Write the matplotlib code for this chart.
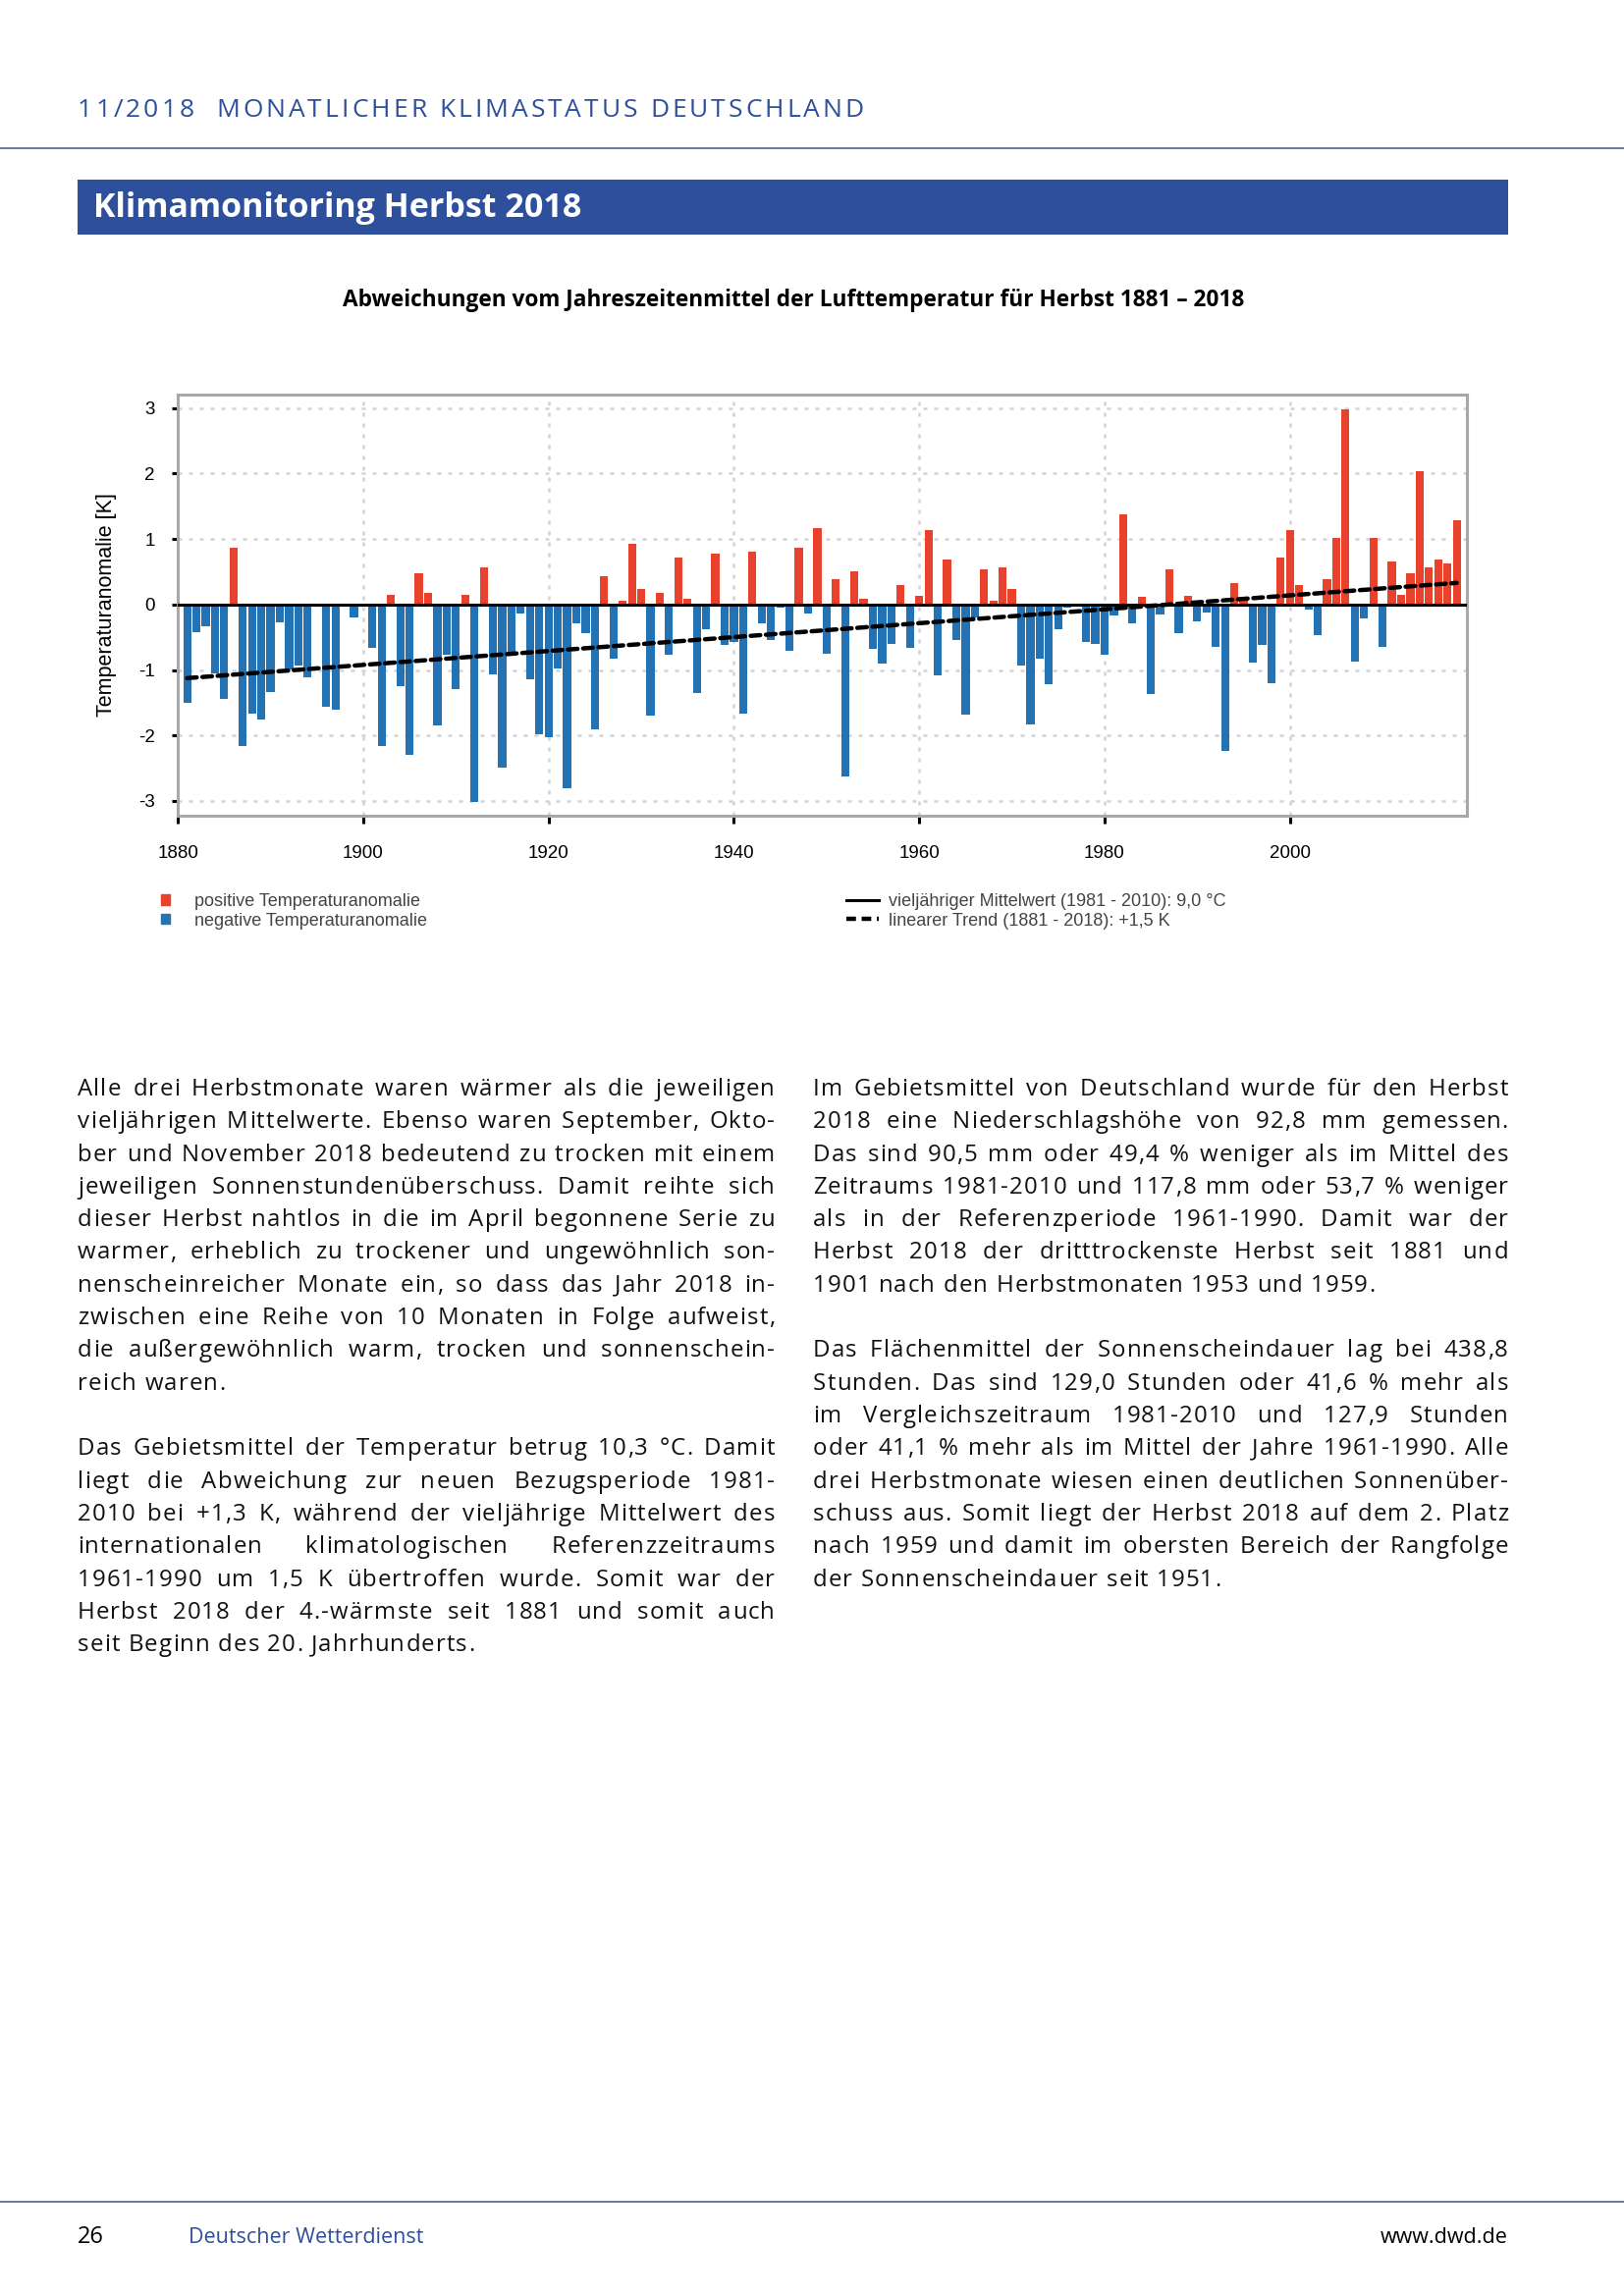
import numpy as np
import matplotlib
matplotlib.use("Agg")
import matplotlib.pyplot as plt
from matplotlib.patches import Patch, Rectangle
from matplotlib.lines import Line2D

# autumn temperature anomaly vs 1981-2010 mean, Germany
years = np.arange(1881, 2019)
anomaly = [
    -1.50, -0.42, -0.33, -1.05, -1.44, 0.86, -2.16, -1.66, -1.75, -1.33,   # 1881-1890
    -0.27, -0.99, -0.93, -1.11, 0.00, -1.56, -1.60, 0.00, -0.19, 0.00,     # 1891-1900
    -0.66, -2.16, 0.15, -1.24, -2.29, 0.48, 0.17, -1.84, -0.76, -1.29,     # 1901-1910
    0.15, -3.02, 0.57, -1.06, -2.49, -0.75, -0.13, -1.14, -1.98, -2.03,    # 1911-1920
    -0.97, -2.80, -0.29, -0.44, -1.90, 0.43, -0.82, 0.05, 0.92, 0.23,      # 1921-1930
    -1.69, 0.17, -0.76, 0.71, 0.09, -1.35, -0.37, 0.77, -0.61, -0.57,      # 1931-1940
    -1.66, 0.80, -0.29, -0.54, -0.04, -0.70, 0.87, -0.14, 1.17, -0.75,     # 1941-1950
    0.38, -2.62, 0.51, 0.09, -0.67, -0.90, -0.60, 0.29, -0.66, 0.13,       # 1951-1960
    1.13, -1.08, 0.69, -0.54, -1.68, -0.19, 0.53, 0.06, 0.57, 0.24,        # 1961-1970
    -0.93, -1.83, -0.82, -1.21, -0.37, -0.05, -0.03, -0.57, -0.60, -0.76,  # 1971-1980
    -0.17, 1.38, -0.28, 0.11, -1.36, -0.15, 0.54, -0.43, 0.13, -0.25,      # 1981-1990
    -0.12, -0.64, -2.24, 0.32, 0.06, -0.88, -0.61, -1.20, 0.71, 1.14,      # 1991-2000
    0.30, -0.07, -0.46, 0.38, 1.01, 2.98, -0.87, -0.21, 1.02, -0.64,       # 2001-2010
    0.65, 0.14, 0.47, 2.04, 0.57, 0.68, 0.63, 1.29,                        # 2011-2018
]
anomaly = np.array(anomaly)

x_ticks = [1880, 1900, 1920, 1940, 1960, 1980, 2000]
y_ticks = [-3, -2, -1, 0, 1, 2, 3]

RED = "#e8412c"
BLUE = "#2372b4"
DARKBLUE = "#2e4f9b"
W, H = 1654, 2339

plt.rcParams["axes.unicode_minus"] = False
fig = plt.figure(figsize=(W / 100, H / 100), dpi=100)
renderer = fig.canvas.get_renderer()

def fx(px):
    return px / W

def fy(py):
    return 1 - py / H

body_font = ["Open Sans", "DejaVu Sans"]
narrow = ["Liberation Sans", "DejaVu Sans"]

_widths = {}

def char_width(c, size, weight="normal"):
    key = (c, size, weight)
    if key not in _widths:
        if c == " ":
            a = fig.text(0, 0, "aa", fontsize=size, family=body_font, fontweight=weight)
            b = fig.text(0, 0, "a a", fontsize=size, family=body_font, fontweight=weight)
            _widths[key] = b.get_window_extent(renderer).width - a.get_window_extent(renderer).width
            a.remove()
            b.remove()
        else:
            t = fig.text(0, 0, c, fontsize=size, family=body_font, fontweight=weight)
            _widths[key] = t.get_window_extent(renderer).width
            t.remove()
    return _widths[key]

def spaced_line(x0, y, s, size, track, word_extra=0.0, **kw):
    x = x0
    for c in s:
        if c != " ":
            fig.text(fx(x), fy(y), c, fontsize=size, family=body_font,
                     va="baseline", **kw)
        x += char_width(c, size) + track + (word_extra if c == " " else 0)

# page header (letter-spaced)
header = "11/2018  MONATLICHER KLIMASTATUS DEUTSCHLAND"
hw = sum(char_width(c, 19) for c in header)
spaced_line(79, 119, header, 19, (880 - 79 - hw) / (len(header) - 1), color=DARKBLUE)

fig.add_artist(Line2D([0, 1], [fy(151), fy(151)], color="#4a6490", lw=1.2))
fig.add_artist(Rectangle((fx(79), fy(239)), fx(1536) - fx(79), fy(183) - fy(239),
                         color=DARKBLUE, lw=0))
fig.text(fx(95), fy(212), "Klimamonitoring Herbst 2018", color="white",
         fontsize=24.5, fontweight="bold", family=body_font, va="center")

fig.text(fx(808), fy(306),
         "Abweichungen vom Jahreszeitenmittel der Lufttemperatur für Herbst 1881 – 2018",
         fontsize=16.3, fontweight="bold", family=body_font, ha="center", va="center")

# chart
ax = fig.add_axes([fx(180.7), fy(831), fx(1494) - fx(180.7), fy(402) - fy(831)])
colors = [RED if v > 0 else BLUE for v in anomaly]
ax.bar(years, anomaly, width=0.87, color=colors, zorder=2)
ax.axhline(0, color="black", lw=2.2, zorder=3)

coef = np.polyfit(years, anomaly, 1)
trend = np.polyval(coef, years)
ax.plot(years, trend, color="black", lw=3.2, ls=(0, (2.2, 1.3)),
        dash_capstyle="round", zorder=4)

ax.set_xlim(1879.95, 2019.1)
ax.set_ylim(-3.225, 3.205)
ax.set_xticks(x_ticks)
ax.set_yticks(y_ticks)
ax.grid(True, color="#d3d3d3", lw=1.8, ls=(0, (1.6, 2.8)), zorder=0)
for s in ax.spines.values():
    s.set_color("#a8a8a8")
    s.set_linewidth(2.2)
ax.tick_params(axis="y", length=4.5, width=2.2, pad=12, labelsize=13.5)
ax.tick_params(axis="x", length=5.5, width=2.2, pad=16, labelsize=13.5)
for lab in ax.get_xticklabels() + ax.get_yticklabels():
    lab.set_family(narrow)
ax.set_ylabel("Temperaturanomalie [K]", fontsize=15.5, family=narrow, labelpad=16)

# legends
leg1 = fig.legend(
    handles=[Patch(color=RED), Patch(color=BLUE)],
    labels=["positive Temperaturanomalie", "negative Temperaturanomalie"],
    loc="upper left", bbox_to_anchor=(fx(164), fy(910)), frameon=False,
    handlelength=0.5, handleheight=0.5, handletextpad=1.4, labelspacing=0.15,
    borderpad=0, borderaxespad=0, prop={"family": narrow, "size": 13},
    labelcolor="#444444")
leg2 = fig.legend(
    handles=[Line2D([], [], color="black", lw=2.2),
             Line2D([], [], color="black", lw=3.2, ls=(0, (2.2, 1.3)))],
    labels=["vieljähriger Mittelwert (1981 - 2010): 9,0 °C",
            "linearer Trend (1881 - 2018): +1,5 K"],
    loc="upper left", bbox_to_anchor=(fx(862), fy(910)), frameon=False,
    handlelength=1.8, handletextpad=0.6, labelspacing=0.15,
    borderpad=0, borderaxespad=0, prop={"family": narrow, "size": 13},
    labelcolor="#444444")

# body text, justified
left_p1 = [
    "Alle drei Herbstmonate waren wärmer als die jeweiligen",
    "vieljährigen Mittelwerte. Ebenso waren September, Okto-",
    "ber und November 2018 bedeutend zu trocken mit einem",
    "jeweiligen Sonnenstundenüberschuss. Damit reihte sich",
    "dieser Herbst nahtlos in die im April begonnene Serie zu",
    "warmer, erheblich zu trockener und ungewöhnlich son-",
    "nenscheinreicher Monate ein, so dass das Jahr 2018 in-",
    "zwischen eine Reihe von 10 Monaten in Folge aufweist,",
    "die außergewöhnlich warm, trocken und sonnenschein-",
    "reich waren.",
]
left_p2 = [
    "Das Gebietsmittel der Temperatur betrug 10,3 °C. Damit",
    "liegt die Abweichung zur neuen Bezugsperiode 1981-",
    "2010 bei +1,3 K, während der vieljährige Mittelwert des",
    "internationalen klimatologischen Referenzzeitraums",
    "1961-1990 um 1,5 K übertroffen wurde. Somit war der",
    "Herbst 2018 der 4.-wärmste seit 1881 und somit auch",
    "seit Beginn des 20. Jahrhunderts.",
]
right_p1 = [
    "Im Gebietsmittel von Deutschland wurde für den Herbst",
    "2018 eine Niederschlagshöhe von 92,8 mm gemessen.",
    "Das sind 90,5 mm oder 49,4 % weniger als im Mittel des",
    "Zeitraums 1981-2010 und 117,8 mm oder 53,7 % weniger",
    "als in der Referenzperiode 1961-1990. Damit war der",
    "Herbst 2018 der dritttrockenste Herbst seit 1881 und",
    "1901 nach den Herbstmonaten 1953 und 1959.",
]
right_p2 = [
    "Das Flächenmittel der Sonnenscheindauer lag bei 438,8",
    "Stunden. Das sind 129,0 Stunden oder 41,6 % mehr als",
    "im Vergleichszeitraum 1981-2010 und 127,9 Stunden",
    "oder 41,1 % mehr als im Mittel der Jahre 1961-1990. Alle",
    "drei Herbstmonate wiesen einen deutlichen Sonnenüber-",
    "schuss aus. Somit liegt der Herbst 2018 auf dem 2. Platz",
    "nach 1959 und damit im obersten Bereich der Rangfolge",
    "der Sonnenscheindauer seit 1951.",
]

BODY_SIZE = 17.3
LINE = 33.3
MAX_TRACK = 1.1

def paragraph(lines, x0, x1, y0):
    for i, line in enumerate(lines):
        y = y0 + i * LINE
        natural = sum(char_width(c, BODY_SIZE) for c in line)
        n_sp = line.count(" ")
        if i == len(lines) - 1:
            track, extra = MAX_TRACK, 0.0
        else:
            spare = x1 - x0 - natural
            track = max(min(spare / (len(line) - 1), MAX_TRACK), 0.0)
            extra = (spare - track * (len(line) - 1)) / max(n_sp, 1)
        spaced_line(x0, y, line, BODY_SIZE, track, extra, color="#111111")

paragraph(left_p1, 79, 789, 1116)
paragraph(left_p2, 79, 789, 1116 + 11 * LINE)
paragraph(right_p1, 828, 1536, 1116)
paragraph(right_p2, 828, 1536, 1116 + 8 * LINE)

# footer
fig.add_artist(Line2D([0, 1], [fy(2243), fy(2243)], color="#4a6490", lw=1.2))
fig.text(fx(79), fy(2285), "26", fontsize=17, family=body_font, va="baseline")
fig.text(fx(192), fy(2285), "Deutscher Wetterdienst", fontsize=15.5, color=DARKBLUE,
         family=body_font, va="baseline")
fig.text(fx(1536), fy(2285), "www.dwd.de", fontsize=15.5, family=body_font,
         ha="right", va="baseline")

fig.savefig("out.png", dpi=100)
